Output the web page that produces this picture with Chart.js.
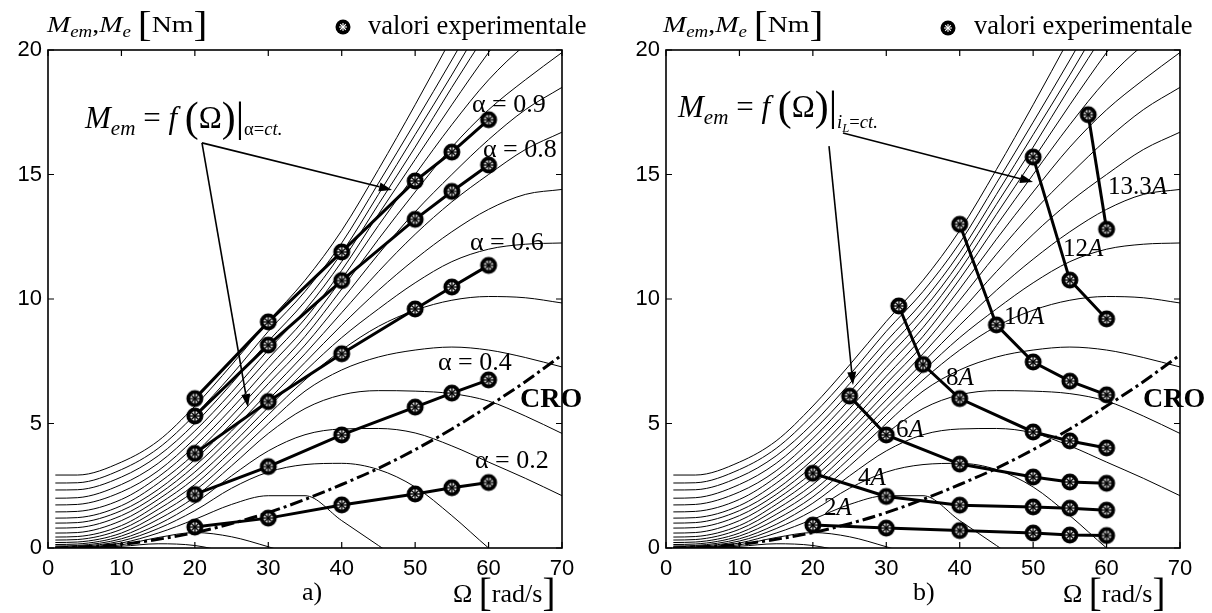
<!DOCTYPE html>
<html><head><meta charset="utf-8">
<script src="https://cdn.jsdelivr.net/npm/chart.js@4.4.1/dist/chart.umd.min.js"></script>
<style>
html,body{margin:0;padding:0;background:#fff;}
#wrap{position:relative;width:1212px;height:613px;overflow:hidden;background:#fff;}
canvas{position:absolute;top:0;}
.t{position:absolute;font-family:"Liberation Serif","Times New Roman",serif;color:#000;white-space:nowrap;line-height:1;}
.t sub{font-size:0.68em;vertical-align:-0.32em;line-height:0;}
.bk{font-size:1.35em;line-height:0;vertical-align:-0.08em;}
.bk2{font-size:1.5em;line-height:0;vertical-align:-0.1em;}
.i{font-style:italic;}
.b{font-weight:bold;}
.sx{transform:scaleX(1.16);transform-origin:0 0;}
</style></head>
<body><div id="wrap">
<canvas id="ca" width="606" height="613" style="left:0"></canvas>
<canvas id="cb" width="606" height="613" style="left:606px"></canvas>

<div class="t sx" style="left:47px;top:12px;font-size:24px"><span class="i">M</span><sub class="i">em</sub>,<span class="i">M</span><sub class="i">e</sub> <span class="bk2">[</span>Nm<span class="bk2">]</span></div>
<div class="t sx" style="left:663px;top:12px;font-size:24px"><span class="i">M</span><sub class="i">em</sub>,<span class="i">M</span><sub class="i">e</sub> <span class="bk2">[</span>Nm<span class="bk2">]</span></div>

<div class="t" style="left:368px;top:12px;font-size:26.5px">valori experimentale</div>
<div class="t" style="left:974px;top:12px;font-size:26.5px">valori experimentale</div>

<div class="t" style="left:85px;top:102px;font-size:31px"><span class="i">M</span><sub class="i">em</sub> = <span class="i">f</span> <span class="bk">(</span>Ω<span class="bk">)</span><span class="bk">|</span><sub style="font-size:0.6em;vertical-align:-0.4em">α=<span class="i">ct.</span></sub></div>
<div class="t" style="left:678px;top:91px;font-size:31px"><span class="i">M</span><sub class="i">em</sub> = <span class="i">f</span> <span class="bk">(</span>Ω<span class="bk">)</span><span class="bk">|</span><sub style="font-size:0.6em;vertical-align:-0.6em"><span class="i">i<sub>L</sub></span>=<span class="i">ct.</span></sub></div>

<div class="t" style="left:472px;top:91px;font-size:26px">α = 0.9</div>
<div class="t" style="left:483px;top:136px;font-size:26px">α = 0.8</div>
<div class="t" style="left:470px;top:229px;font-size:26px">α = 0.6</div>
<div class="t" style="left:438px;top:349px;font-size:26px">α = 0.4</div>
<div class="t" style="left:475px;top:447px;font-size:26px">α = 0.2</div>
<div class="t b" style="left:520px;top:384px;font-size:28px">CRO</div>

<div class="t" style="left:824px;top:494px;font-size:25px">2<span class="i">A</span></div>
<div class="t" style="left:858px;top:464px;font-size:25px">4<span class="i">A</span></div>
<div class="t" style="left:896px;top:416px;font-size:25px">6<span class="i">A</span></div>
<div class="t" style="left:946px;top:364px;font-size:25px">8<span class="i">A</span></div>
<div class="t" style="left:1004px;top:303px;font-size:25px">10<span class="i">A</span></div>
<div class="t" style="left:1063px;top:235px;font-size:25px">12<span class="i">A</span></div>
<div class="t" style="left:1108px;top:173px;font-size:25px">13.3<span class="i">A</span></div>
<div class="t b" style="left:1143px;top:384px;font-size:28px">CRO</div>

<div class="t" style="left:453px;top:581px;font-size:26px">Ω <span class="bk2">[</span>rad/s<span class="bk2">]</span></div>
<div class="t" style="left:1063px;top:581px;font-size:26px">Ω <span class="bk2">[</span>rad/s<span class="bk2">]</span></div>
<div class="t" style="left:302px;top:579px;font-size:26px">a)</div>
<div class="t" style="left:913px;top:579px;font-size:26px">b)</div>
</div>
<script>
// ---------- data ----------
const omegaGrid = [1, 4, 10, 15, 20, 25, 30, 35, 40, 45, 50, 55, 60, 65, 70];
const curve01 = [2.93, 2.93, 3.45, 4.3, 5.7, 7.35, 9.1, 10.75, 12.75, 15.2, 17.8, 20.5, 23.2, 26, 29];
const curve02 = [2.61, 2.62, 3.15, 4.0, 5.35, 6.95, 8.7, 10.3, 12.25, 14.65, 17.1, 19.6, 22.2, 25, 28];
const curve03 = [2.33, 2.34, 2.85, 3.7, 5.0, 6.6, 8.3, 9.9, 11.85, 14.2, 16.6, 19.0, 21.5, 24, 26.5];
const curve04 = [2.0, 2.02, 2.55, 3.4, 4.7, 6.25, 7.95, 9.55, 11.5, 13.8, 16.1, 18.5, 20.8, 23, 25];
const curve05 = [1.73, 1.75, 2.25, 3.1, 4.4, 5.95, 7.6, 9.2, 11.15, 13.4, 15.6, 17.8, 19.9, 21.8, 23.4];
const curve06 = [1.45, 1.47, 1.95, 2.85, 4.1, 5.6, 7.25, 8.85, 10.8, 12.95, 15.0, 17.0, 18.8, 20.2, 21.2];
const curve07 = [1.2, 1.22, 1.7, 2.6, 3.8, 5.3, 6.9, 8.5, 10.4, 12.4, 14.3, 16.1, 17.6, 18.8, 19.9];
const curve08 = [1.0, 1.02, 1.5, 2.35, 3.55, 5.0, 6.6, 8.15, 9.95, 11.8, 13.5, 15.0, 16.4, 17.6, 18.5];
const curve09 = [0.8, 0.82, 1.3, 2.15, 3.3, 4.7, 6.25, 7.8, 9.45, 11.1, 12.6, 13.9, 15.0, 16.0, 16.7];
const curve10 = [0.6, 0.62, 1.1, 1.95, 3.05, 4.45, 5.95, 7.45, 8.95, 10.35, 11.6, 12.7, 13.6, 14.2, 14.4];
const curve11 = [0.44, 0.46, 0.9, 1.75, 2.8, 4.15, 5.65, 7.1, 8.45, 9.6, 10.65, 11.5, 12.0, 12.2, 12.25];
const curve12 = [0.32, 0.34, 0.75, 1.55, 2.55, 3.9, 5.35, 6.75, 7.95, 8.9, 9.55, 9.95, 10.1, 10.05, 9.84];
const curve13 = [0.22, 0.24, 0.6, 1.35, 2.3, 3.6, 5.0, 6.3, 7.15, 7.67, 7.95, 8.07, 7.95, 7.65, 7.27];
const curve14 = [0.14, 0.16, 0.48, 1.15, 2.05, 3.3, 4.6, 5.6, 6.15, 6.32, 6.3, 6.2, 5.9, 5.3, 4.6];
const curve15 = [0.08, 0.1, 0.37, 0.95, 1.8, 2.9, 3.9, 4.55, 4.78, 4.8, 4.62, 4.1, 3.45, 2.8, 2.1];
const curve16 = [0.04, 0.06, 0.28, 0.78, 1.5, 2.4, 3.05, 3.35, 3.4, 3.15, 2.45, 1.3, 0.0, -1.2];
const curve17 = [0.02, 0.03, 0.2, 0.6, 1.15, 1.75, 2.1, 2.1, 1.1, 0.1, -0.9];
const curve18 = [0.01, 0.02, 0.13, 0.42, 0.62, 0.45, 0.05, -0.4];
const curve19 = [0.005, 0.01, 0.07, 0.17, 0.1, -0.2];
const curve20 = [0.0, 0.005, 0.02, -0.05];

const croOmega = [1, 5, 10, 15, 20, 25, 30, 35, 40, 45, 50, 55, 60, 65, 70];
const croTorque = [0.0, 0.05, 0.15, 0.35, 0.62, 0.98, 1.42, 1.95, 2.55, 3.2, 3.95, 4.78, 5.7, 6.68, 7.75];

// panel a) experimental, alpha = const
const expOmegaA = [20, 30, 40, 50, 55, 60];
const alpha02 = [0.84, 1.2, 1.73, 2.17, 2.42, 2.63];
const alpha04 = [2.15, 3.27, 4.54, 5.66, 6.22, 6.75];
const alpha06 = [3.8, 5.88, 7.8, 9.6, 10.48, 11.35];
const alpha08 = [5.3, 8.15, 10.74, 13.2, 14.32, 15.38];
const alpha09 = [6.0, 9.08, 11.89, 14.74, 15.9, 17.2];

// panel b) experimental, i_L = const
const iL2Omega = [20, 30, 40, 50, 55, 60];
const iL2 = [0.92, 0.8, 0.7, 0.6, 0.52, 0.5];
const iL4Omega = [20, 30, 40, 50, 55, 60];
const iL4 = [3.0, 2.07, 1.72, 1.65, 1.6, 1.52];
const iL6Omega = [25, 30, 40, 50, 55, 60];
const iL6 = [6.1, 4.54, 3.37, 2.85, 2.65, 2.6];
const iL8Omega = [31.7, 35, 40, 50, 55, 60];
const iL8 = [9.72, 7.37, 6.0, 4.66, 4.3, 4.02];
const iL10Omega = [40, 45, 50, 55, 60];
const iL10 = [13.0, 8.96, 7.47, 6.7, 6.15];
const iL12Omega = [50, 55, 60];
const iL12 = [15.7, 10.76, 9.2];
const iL133Omega = [57.5, 60];
const iL133 = [17.4, 12.8];

const xTicks = [0, 10, 20, 30, 40, 50, 60, 70];
const yTicks = [0, 5, 10, 15, 20];

// ---------- helpers ----------
const thinCurves = [curve01, curve02, curve03, curve04, curve05, curve06, curve07, curve08, curve09, curve10,
  curve11, curve12, curve13, curve14, curve15, curve16, curve17, curve18, curve19, curve20];
const pts = (xs, ys) => ys.map((v, i) => ({x: xs[i], y: v}));

const marker = (() => {
  const c = document.createElement('canvas'); c.width = 22; c.height = 22;
  const g = c.getContext('2d');
  g.beginPath(); g.arc(11, 11, 6.6, 0, Math.PI * 2);
  g.fillStyle = '#fff'; g.fill();
  g.lineWidth = 3.8; g.strokeStyle = '#000'; g.stroke();
  g.lineWidth = 1.4;
  for (let i = 0; i < 4; i++) {
    const a = i * Math.PI / 4;
    g.beginPath(); g.moveTo(11 - 5 * Math.cos(a), 11 - 5 * Math.sin(a));
    g.lineTo(11 + 5 * Math.cos(a), 11 + 5 * Math.sin(a)); g.stroke();
  }
  return c;
})();

function baseDatasets() {
  const ds = thinCurves.map(c => ({
    data: pts(omegaGrid, c), borderColor: '#000', borderWidth: 1, pointRadius: 0,
    cubicInterpolationMode: 'monotone', order: 3
  }));
  ds.push({data: pts(croOmega, croTorque), borderColor: '#000', borderWidth: 3,
    borderDash: [13, 4, 3, 4], pointRadius: 0, cubicInterpolationMode: 'monotone', order: 2});
  return ds;
}
function expDataset(xs, ys) {
  return {data: pts(xs, ys), borderColor: '#000', borderWidth: 3, pointStyle: marker,
    pointRadius: 9, tension: 0, order: 1};
}

const framePlugin = {
  id: 'frame',
  afterDatasetsDraw(chart, args, opts) {
    const {ctx, chartArea: a, scales: {x, y}} = chart;
    ctx.save();
    ctx.strokeStyle = '#000';
    ctx.lineWidth = 1.6;
    ctx.strokeRect(a.left, a.top, a.right - a.left, a.bottom - a.top);
    ctx.lineWidth = 1.2;
    const L = 6;
    xTicks.forEach(v => {
      const p = x.getPixelForValue(v);
      ctx.beginPath(); ctx.moveTo(p, a.bottom); ctx.lineTo(p, a.bottom - L);
      ctx.moveTo(p, a.top); ctx.lineTo(p, a.top + L); ctx.stroke();
    });
    yTicks.forEach(v => {
      const p = y.getPixelForValue(v);
      ctx.beginPath(); ctx.moveTo(a.left, p); ctx.lineTo(a.left + L, p);
      ctx.moveTo(a.right, p); ctx.lineTo(a.right - L, p); ctx.stroke();
    });
    // arrows (annotation, in data coordinates)
    (opts.arrows || []).forEach(ar => {
      const x0 = x.getPixelForValue(ar[0]), y0 = y.getPixelForValue(ar[1]);
      const x1 = x.getPixelForValue(ar[2]), y1 = y.getPixelForValue(ar[3]);
      const ang = Math.atan2(y1 - y0, x1 - x0);
      const hl = 13, hw = 4.5;
      const bx = x1 - hl * Math.cos(ang), by = y1 - hl * Math.sin(ang);
      ctx.lineWidth = 1.6;
      ctx.beginPath(); ctx.moveTo(x0, y0); ctx.lineTo(bx, by); ctx.stroke();
      ctx.beginPath(); ctx.moveTo(x1, y1);
      ctx.lineTo(bx + hw * Math.sin(ang), by - hw * Math.cos(ang));
      ctx.lineTo(bx - hw * Math.sin(ang), by + hw * Math.cos(ang));
      ctx.closePath(); ctx.fillStyle = '#000'; ctx.fill();
    });
    ctx.restore();
  },
  afterDraw(chart, args, opts) {
    // legend marker
    const ctx = chart.ctx, [cx, cy] = opts.legendAt;
    ctx.save();
    ctx.beginPath(); ctx.arc(cx, cy, 7.5, 0, Math.PI * 2); ctx.fillStyle = '#000'; ctx.fill();
    ctx.strokeStyle = '#fff'; ctx.lineWidth = 1.1;
    for (let i = 0; i < 4; i++) {
      const a = i * Math.PI / 4;
      ctx.beginPath(); ctx.moveTo(cx - 4 * Math.cos(a), cy - 4 * Math.sin(a));
      ctx.lineTo(cx + 4 * Math.cos(a), cy + 4 * Math.sin(a)); ctx.stroke();
    }
    ctx.restore();
  }
};

function makeChart(id, expSets, yWidth, padRight, arrows, legendAt) {
  return new Chart(document.getElementById(id), {
    type: 'line',
    data: {datasets: baseDatasets().concat(expSets)},
    options: {
      responsive: false, animation: false, devicePixelRatio: 1,
      layout: {padding: {top: 50, right: padRight, left: 0, bottom: 0}},
      plugins: {legend: {display: false}, tooltip: {enabled: false},
        frame: {arrows: arrows, legendAt: legendAt}},
      scales: {
        x: {type: 'linear', min: 0, max: 70,
          ticks: {stepSize: 10, color: '#000', padding: 8, maxRotation: 0,
            font: {family: 'Liberation Sans, Arial, sans-serif', size: 22}},
          grid: {display: false, drawTicks: false}, border: {display: false},
          afterFit: s => { s.height = 65; }},
        y: {type: 'linear', min: 0, max: 20,
          ticks: {stepSize: 5, color: '#000', padding: 6,
            font: {family: 'Liberation Sans, Arial, sans-serif', size: 22}},
          grid: {display: false, drawTicks: false}, border: {display: false},
          afterFit: s => { s.width = yWidth; }}
      }
    },
    plugins: [framePlugin]
  });
}

makeChart('ca', [
  expDataset(expOmegaA, alpha02), expDataset(expOmegaA, alpha04), expDataset(expOmegaA, alpha06),
  expDataset(expOmegaA, alpha08), expDataset(expOmegaA, alpha09)
], 48, 44, [[20.97, 16.27, 46.85, 14.38], [20.97, 16.27, 27.24, 5.66]], [343, 27]);

makeChart('cb', [
  expDataset(iL2Omega, iL2), expDataset(iL4Omega, iL4), expDataset(iL6Omega, iL6),
  expDataset(iL8Omega, iL8), expDataset(iL10Omega, iL10), expDataset(iL12Omega, iL12),
  expDataset(iL133Omega, iL133)
], 60, 32, [[24.1, 16.67, 49.98, 14.7], [22.2, 16.14, 25.47, 6.55]], [342, 28]);
</script>
</body></html>
